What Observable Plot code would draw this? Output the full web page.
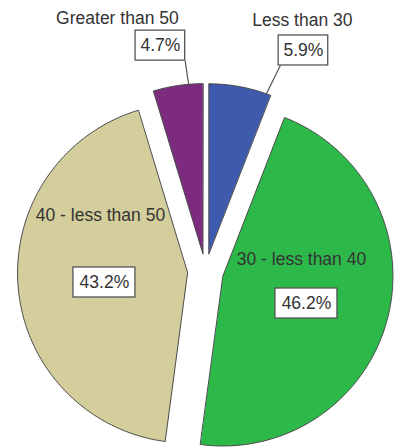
<!DOCTYPE html>
<html><head><meta charset="utf-8">
<script src="https://cdn.jsdelivr.net/npm/d3@7"></script>
<script src="https://cdn.jsdelivr.net/npm/@observablehq/plot@0.6"></script>
<style>body{margin:0;background:#fff}</style>
</head><body><div id="chart"></div>
<script>
// ---- data ----
const categories = ["Less than 30", "30 - less than 40", "40 - less than 50", "Greater than 50"];
const percents = [5.9, 46.2, 43.2, 4.7];
const pctLabels = ["5.9%", "46.2%", "43.2%", "4.7%"];
const colors = ["#3d5aad", "#2db84a", "#d3ce9b", "#7d2b7f"];

// ---- layout (units of pie radius, angles clockwise from 12 o'clock) ----
const W = 396, H = 448, R = 170, CX = 205, CY = 271, EXPLODE = 18 / 170;
const catAt = [[21.1, 1.583], [82.8, 0.569], [298, 0.700], [340.8, 1.576]];
const pctAt = [[23.9, 1.422], [107.6, 0.623], [263.8, 0.598], [348.7, 1.355]];
const leaderAt = [19.8, null, null, 355.2];

const rad = d => d * Math.PI / 180;
const total = d3.sum(percents);
let cum = 0;
const slices = categories.map((cat, i) => {
  const a0 = cum / total * 360; cum += percents[i];
  const a1 = cum / total * 360;
  const mid = (a0 + a1) / 2;
  return {cat, i, a0, a1, ox: EXPLODE * Math.sin(rad(mid)), oy: EXPLODE * Math.cos(rad(mid))};
});

const pts = [];
for (const s of slices) {
  pts.push({cat: s.cat, x: s.ox, y: s.oy});
  const n = Math.max(2, Math.ceil(s.a1 - s.a0));
  for (let k = 0; k <= n; k++) {
    const a = rad(s.a0 + (s.a1 - s.a0) * k / n);
    pts.push({cat: s.cat, x: s.ox + Math.sin(a), y: s.oy + Math.cos(a)});
  }
}

const polar = ([a, r]) => ({x: r * Math.sin(rad(a)), y: r * Math.cos(rad(a))});
const catLabels = categories.map((c, i) => ({text: c, ...polar(catAt[i])}));
const pctPos = pctLabels.map((t, i) => ({text: t, ...polar(pctAt[i])}));
const boxW = t => (t.length * 12.4) / R, boxH = 30 / R;
const boxes = pctPos.map(p => ({x1: p.x - boxW(p.text) / 2, x2: p.x + boxW(p.text) / 2, y1: p.y - boxH / 2, y2: p.y + boxH / 2}));
const leaders = [];
slices.forEach((s, i) => {
  if (leaderAt[i] == null) return;
  const b = boxes[i], a = rad(leaderAt[i]);
  const ex = s.ox + Math.sin(a), ey = s.oy + Math.cos(a);
  leaders.push({x1: ex > (b.x1 + b.x2) / 2 ? b.x2 : b.x1 + 0.01, y1: b.y1, x2: ex, y2: ey});
});

const chart = Plot.plot({
  width: W, height: H, margin: 0,
  style: {fontFamily: "'Liberation Sans', Arial, sans-serif", background: "#fff"},
  x: {domain: [-CX / R, (W - CX) / R], axis: null},
  y: {domain: [(CY - H) / R, CY / R], axis: null},
  color: {domain: categories, range: colors},
  marks: [
    Plot.line(pts, {x: "x", y: "y", z: "cat", fill: "cat", stroke: "#4a4a4a", strokeWidth: 1, curve: "linear-closed"}),
    Plot.link(leaders, {x1: "x1", y1: "y1", x2: "x2", y2: "y2", stroke: "#555", strokeWidth: 1.2}),
    Plot.text(catLabels, {x: "x", y: "y", text: "text", fontSize: 17.5, fill: "#333"}),
    Plot.rect(boxes, {x1: "x1", x2: "x2", y1: "y1", y2: "y2", fill: "white", stroke: "#555", strokeWidth: 1.3}),
    Plot.text(pctPos, {x: "x", y: "y", text: "text", fontSize: 17.5, fill: "#333"})
  ]
});
document.getElementById("chart").appendChild(chart);
</script>
</body></html>
